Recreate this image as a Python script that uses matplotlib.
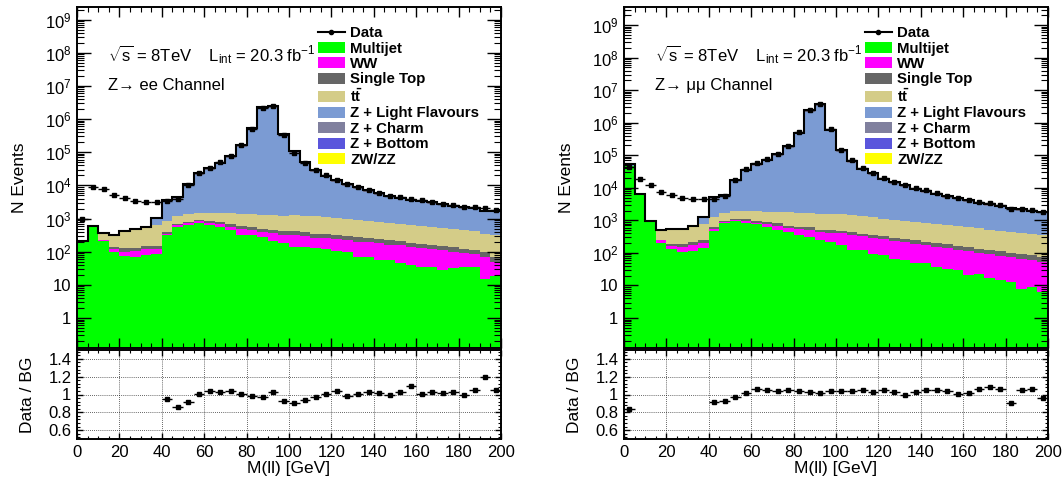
import numpy as np
import matplotlib
matplotlib.use("Agg")
import matplotlib.pyplot as plt
from matplotlib.ticker import FixedLocator, FixedFormatter, LogLocator, NullFormatter, MultipleLocator
from matplotlib.lines import Line2D
from matplotlib.patches import Patch

plt.rcParams['font.family'] = ['Liberation Sans', 'DejaVu Sans']
plt.rcParams['mathtext.fontset'] = 'custom'
plt.rcParams['mathtext.rm'] = 'Liberation Sans'
plt.rcParams['mathtext.it'] = 'Liberation Sans:italic'
plt.rcParams['mathtext.bf'] = 'Liberation Sans:bold'

# Dilepton invariant mass, 40 bins of 5 GeV from 0 to 200 GeV
mass_edges = np.arange(0, 205, 5)

# ---------------- Z -> ee channel ----------------
ee_multijet = [214, 590, 215, 98, 72, 69, 79, 83, 310, 575,
               660, 725, 645, 575, 455, 323, 323, 275, 218, 180,
               141, 141, 126, 118, 107, 100, 71, 71, 56, 56,
               45, 40, 35, 35, 28, 32, 35, 35, 15, 18]
ee_ww = [0, 0, 12, 19, 26, 35, 38, 34, 37, 60,
         80, 95, 115, 115, 120, 155, 132, 130, 145, 143,
         179, 159, 134, 133, 133, 124, 129, 119, 122, 109,
         113, 95, 91, 83, 84, 68, 54, 50, 56, 32]
ee_single_top = [0, 0, 6, 21, 28, 27, 33, 33, 43, 73,
                 60, 65, 80, 90, 95, 100, 95, 85, 80, 90,
                 110, 105, 90, 89, 85, 78, 70, 66, 62, 58,
                 55, 47, 44, 42, 39, 35, 31, 30, 25, 18]
ee_ttbar = [0, 0, 137, 187, 279, 334, 395, 470, 480, 522,
            580, 565, 640, 730, 810, 800, 800, 830, 857, 817,
            870, 825, 810, 740, 685, 648, 610, 574, 530, 497,
            457, 443, 410, 380, 354, 335, 320, 295, 244, 252]
ee_z_light = [0, 0, 0, 0, 0, 0, 0, 380, 2450, 2765,
              8470, 19230, 27740, 41790, 65580, 144870, 460800, 1970000, 2110900, 311300,
              93000, 42920, 24760, 16470, 11870, 8845, 6880, 5695, 4425, 3680,
              3105, 2660, 2550, 2255, 1995, 1750, 1540, 1485, 1230, 1250]
ee_z_charm = [0, 0, 0, 0, 0, 0, 0, 38, 250, 283,
              865, 1965, 2835, 4275, 6700, 14800, 47100, 201500, 215900, 31840,
              9510, 4390, 2530, 1685, 1215, 905, 705, 580, 455, 375,
              320, 270, 260, 230, 205, 180, 160, 150, 125, 130]
ee_z_bottom = [0, 0, 0, 0, 0, 0, 0, 9, 65, 75,
               230, 525, 755, 1140, 1790, 3950, 12600, 53700, 57560, 8490,
               2540, 1170, 675, 450, 325, 240, 190, 155, 120, 100,
               85, 75, 70, 60, 55, 50, 40, 45, 35, 30]
ee_diboson = [0, 0, 0, 5, 5, 5, 5, 3, 15, 17,
              55, 130, 190, 285, 450, 1000, 3150, 13480, 14340, 2140,
              650, 290, 175, 115, 80, 60, 45, 40, 30, 25,
              20, 20, 20, 15, 10, 10, 10, 10, 10, 10]
ee_data = [940, 8800, 7800, 5170, 4190, 3490, 3100, 3100, 3475, 3760,
           10070, 23460, 34220, 50270, 79340, 167160, 513450, 2181760, 2472000, 328730,
           96300, 47000, 28330, 20000, 15040, 10835, 8760, 7490, 5905, 4900,
           4325, 3980, 3515, 3195, 2820, 2540, 2175, 2200, 2080, 1830]

# ---------------- Z -> mumu channel ----------------
mm_multijet = [46000, 6300, 960, 204, 128, 107, 115, 146, 475, 850,
               960, 850, 750, 630, 500, 445, 355, 310, 245, 220,
               173, 123, 123, 96, 85, 67, 60, 48, 48, 38,
               33, 30, 21, 23, 17, 15, 13, 8, 9, 6.5]
mm_ww = [0, 0, 0, 41, 35, 48, 60, 49, 60, 60,
         90, 105, 100, 130, 180, 155, 195, 190, 185, 190,
         225, 235, 199, 194, 176, 168, 151, 142, 123, 116,
         106, 95, 91, 78, 74, 67, 61, 58, 51, 47]
mm_single_top = [0, 0, 0, 5, 24, 32, 40, 50, 70, 50,
                 70, 115, 110, 130, 130, 60, 70, 130, 90, 80,
                 81, 77, 72, 68, 64, 60, 57, 53, 50, 46,
                 43, 40, 38, 35, 33, 30, 28, 26, 24, 22]
mm_ttbar = [0, 0, 0, 250, 353, 373, 465, 555, 625, 740,
            840, 890, 940, 930, 1010, 1120, 1080, 1050, 1080, 1070,
            1070, 1000, 930, 880, 805, 760, 700, 660, 605, 575,
            525, 500, 455, 430, 395, 375, 345, 325, 295, 280]
mm_z_light = [4000, 0, 0, 0, 0, 0, 0, 380, 3360, 3960,
              14030, 30220, 44970, 63520, 92560, 165630, 438500, 2154550, 3272200, 539830,
              123600, 57700, 33150, 23295, 15900, 12365, 9705, 7570, 6220, 5175,
              4215, 3730, 3115, 2610, 2295, 2040, 1735, 1570, 1380, 1290]
mm_z_charm = [2500, 0, 0, 0, 0, 0, 0, 38, 345, 405,
              1435, 3090, 4600, 6500, 9465, 16940, 44850, 220350, 334660, 55210,
              12640, 5900, 3390, 2380, 1625, 1265, 990, 775, 635, 530,
              430, 380, 320, 265, 235, 208, 178, 160, 140, 132]
mm_z_bottom = [500, 0, 0, 0, 0, 0, 0, 9, 90, 110,
               380, 825, 1225, 1730, 2525, 4520, 11960, 58760, 89240, 14720,
               3370, 1575, 905, 635, 430, 335, 265, 205, 170, 140,
               115, 100, 85, 70, 62, 55, 47, 43, 37, 35]
mm_diboson = [0, 0, 0, 0, 0, 0, 0, 3, 25, 25,
              95, 205, 305, 430, 630, 1130, 2990, 14690, 22300, 3680,
              840, 395, 225, 160, 110, 85, 67, 50, 43, 35,
              27, 30, 20, 20, 15, 13, 12, 13, 10, 8]
mm_data = [44200, 18700, 12000, 7300, 5900, 5000, 4500, 4400, 4640, 5770,
           17360, 36950, 56340, 78070, 110960, 199100, 522000, 2523500, 3801800, 642060,
           148250, 69480, 40870, 28530, 20260, 15550, 11870, 9785, 8335, 6970,
           5700, 4935, 4225, 3750, 3395, 2985, 2200, 2305, 2075, 1750]

process_labels = ["Multijet", "WW", "Single Top", r"$\mathbf{t\bar{t}}$",
                  "Z + Light Flavours", "Z + Charm", "Z + Bottom", "ZW/ZZ"]
process_colors = ["#00ff00", "#ff00ff", "#666666", "#d4cc88",
                  "#7b9bd3", "#80809e", "#5a55dc", "#ffff00"]

log_ticks = [1, 10, 1e2, 1e3, 1e4, 1e5, 1e6, 1e7, 1e8, 1e9]
log_tick_labels = ["1", "10", "$10^{2}$", "$10^{3}$", "$10^{4}$", "$10^{5}$",
                   "$10^{6}$", "$10^{7}$", "$10^{8}$", "$10^{9}$"]
ratio_ticks = [0.6, 0.8, 1.0, 1.2, 1.4]
ratio_tick_labels = ["0.6", "0.8", "1", "1.2", "1.4"]
mass_ticks = list(range(0, 201, 20))

W, H = 1063, 484
fig = plt.figure(figsize=(W / 100, H / 100), dpi=100)

TICK_FS = 12
LABEL_FS = 12.5


def draw_channel(left_px, components, data, channel_text, ylims):
    ax_w = 424 / W
    ax = fig.add_axes([left_px / W, (H - 348) / H, ax_w, 341 / H])
    axr = fig.add_axes([left_px / W, (H - 439) / H, ax_w, 89 / H])

    data = np.asarray(data, float)
    centers = 0.5 * (mass_edges[:-1] + mass_edges[1:])
    half_width = 0.5 * np.diff(mass_edges)

    # cumulative stack, drawn from the top layer down so layers never leave seams
    cumulative = np.cumsum(np.asarray(components, float), axis=0)
    floor = 1e-3
    for layer in range(len(components) - 1, -1, -1):
        ax.stairs(np.maximum(cumulative[layer], floor), mass_edges, baseline=floor,
                  fill=True, facecolor=process_colors[layer], edgecolor='none',
                  linewidth=0, zorder=1)
    total = cumulative[-1]
    ax.stairs(total, mass_edges, baseline=None, color='black', linewidth=1.5, zorder=3)

    ax.errorbar(centers, data, xerr=half_width, yerr=np.sqrt(data), fmt='s',
                ms=2.4, color='black', elinewidth=1.0, capsize=0, zorder=4)

    ax.set_xlim(0, 200)
    ax.set_yscale('log')
    ax.set_ylim(*ylims)
    ax.yaxis.set_major_locator(FixedLocator(log_ticks))
    ax.yaxis.set_major_formatter(FixedFormatter(log_tick_labels))
    ax.yaxis.set_minor_locator(LogLocator(base=10, subs=np.arange(2, 10), numticks=100))
    ax.yaxis.set_minor_formatter(NullFormatter())
    ax.xaxis.set_major_locator(MultipleLocator(20))
    ax.xaxis.set_minor_locator(MultipleLocator(5))
    ax.tick_params(axis='both', which='both', direction='in', top=True, right=True,
                   labelbottom=False, labelsize=TICK_FS, pad=4)
    ax.tick_params(axis='y', which='major', length=10, width=1.0)
    ax.tick_params(axis='y', which='minor', length=5, width=0.8)
    ax.tick_params(axis='x', which='major', length=7, width=1.0)
    ax.tick_params(axis='x', which='minor', length=3.5, width=0.8)
    for sp in ax.spines.values():
        sp.set_linewidth(1.4)
    ax.set_ylabel("N Events", fontsize=LABEL_FS)
    ax.yaxis.set_label_coords(-0.118, 0.5)

    ax.text(0.073, 0.86,
            r"$\sqrt{\mathrm{s}}$ = 8TeV    L$_{\mathrm{int}}$ = 20.3 fb$^{\mathrm{-1}}$",
            transform=ax.transAxes, fontsize=12, va='center', ha='left')
    ax.text(0.073, 0.771, channel_text, transform=ax.transAxes, fontsize=12,
            va='center', ha='left')

    handles = [Line2D([], [], color='black', marker='o', ms=3, lw=1.5)]
    handles += [Patch(facecolor=c, edgecolor='none') for c in process_colors]
    labels = ["Data"] + process_labels
    ax.legend(handles, labels, loc='upper left', bbox_to_anchor=(0.568, 0.944),
              frameon=False, prop={'family': 'Liberation Sans', 'weight': 'bold',
                                   'size': 10.8},
              handlelength=1.8, handleheight=0.75, handletextpad=0.35,
              labelspacing=0.095, borderpad=0.0, borderaxespad=0.0)

    # ratio panel
    ratio = data / total
    ratio_err = np.sqrt(data) / total
    axr.errorbar(centers, ratio, xerr=half_width, yerr=ratio_err, fmt='s',
                 ms=2.2, color='black', elinewidth=1.0, capsize=0, zorder=4)
    axr.set_xlim(0, 200)
    axr.set_ylim(0.5, 1.5)
    axr.yaxis.set_major_locator(FixedLocator(ratio_ticks))
    axr.yaxis.set_major_formatter(FixedFormatter(ratio_tick_labels))
    axr.yaxis.set_minor_locator(MultipleLocator(0.04))
    axr.xaxis.set_major_locator(FixedLocator(mass_ticks))
    axr.xaxis.set_minor_locator(MultipleLocator(5))
    axr.grid(True, which='major', linestyle=(0, (1, 1.5)), color='black',
             linewidth=0.6, alpha=0.8)
    axr.tick_params(axis='both', which='both', direction='in', top=True, right=True,
                    labelsize=TICK_FS, pad=4)
    axr.tick_params(axis='both', which='major', length=4, width=1.0)
    axr.tick_params(axis='both', which='minor', length=2, width=0.8)
    for sp in axr.spines.values():
        sp.set_linewidth(1.4)
    axr.set_ylabel("Data / BG", fontsize=LABEL_FS)
    axr.yaxis.set_label_coords(-0.1, 0.5)
    axr.set_xlabel("M(ll) [GeV]", fontsize=LABEL_FS, labelpad=1)
    return ax, axr


draw_channel(77,
             [ee_multijet, ee_ww, ee_single_top, ee_ttbar,
              ee_z_light, ee_z_charm, ee_z_bottom, ee_diboson],
             ee_data, "Z\u2192 ee Channel", (0.125, 2.4e9))
draw_channel(624,
             [mm_multijet, mm_ww, mm_single_top, mm_ttbar,
              mm_z_light, mm_z_charm, mm_z_bottom, mm_diboson],
             mm_data, "Z\u2192 \u03bc\u03bc Channel", (0.12, 3.6e9))

fig.savefig("out.png", dpi=100)
